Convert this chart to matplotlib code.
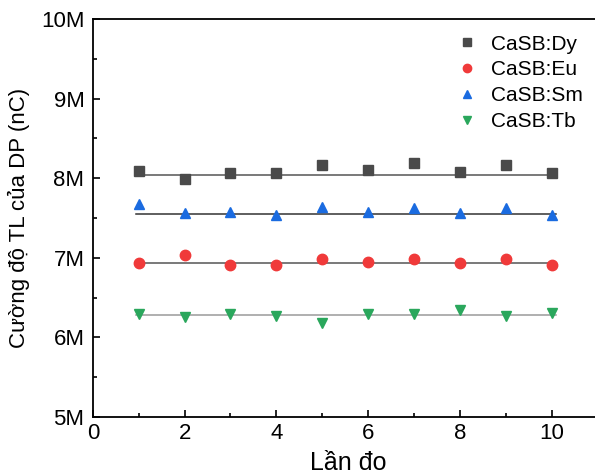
import matplotlib.pyplot as plt
import numpy as np
from matplotlib.ticker import MultipleLocator, FuncFormatter

plt.rcParams['font.family'] = ['Liberation Sans', 'DejaVu Sans']

# measurement index
lan_do = [1, 2, 3, 4, 5, 6, 7, 8, 9, 10]

# TL intensity (millions of nC) per sample
dy = [8.09, 7.99, 8.06, 8.06, 8.17, 8.10, 8.19, 8.08, 8.16, 8.07]
eu = [6.94, 7.03, 6.91, 6.91, 6.99, 6.95, 6.98, 6.93, 6.98, 6.91]
sm = [7.67, 7.56, 7.58, 7.54, 7.64, 7.58, 7.62, 7.56, 7.63, 7.54]
tb = [6.30, 6.26, 6.30, 6.27, 6.18, 6.30, 6.29, 6.35, 6.27, 6.31]

# flat fit levels
fit_levels = [8.04, 6.94, 7.55, 6.28]

labels = ['CaSB:Dy', 'CaSB:Eu', 'CaSB:Sm', 'CaSB:Tb']
series = [dy, eu, sm, tb]
markers = ['s', 'o', '^', 'v']
colors = ['#4a4a4a', '#f03a3a', '#1a6be0', '#2aa75c']
line_colors = ['#555555', '#555555', '#333333', '#9a9a9a']

fig = plt.figure(figsize=(5.95, 4.75), dpi=100)
ax = fig.add_axes([0.156, 0.122, 0.86, 0.838])

x = np.array(lan_do)
for vals, lab, m, c, lc, lvl in zip(series, labels, markers, colors, line_colors, fit_levels):
    ax.plot([x.min() - 0.05, x.max() + 0.1], [lvl, lvl], color=lc, lw=1.1, zorder=2)
    ax.plot(x, vals, linestyle='none', marker=m, ms=7.5 if m != 's' else 6.5,
            color=c, label=lab, zorder=3)

ax.set_xlim(0, 11.15)
ax.set_ylim(5, 10)
ax.xaxis.set_major_locator(MultipleLocator(2))
ax.xaxis.set_minor_locator(MultipleLocator(1))
ax.yaxis.set_major_locator(MultipleLocator(1))
ax.yaxis.set_minor_locator(MultipleLocator(0.5))
ax.yaxis.set_major_formatter(FuncFormatter(lambda v, p: f"{v:g}M"))
ax.tick_params(which='both', direction='in', labelsize=16, width=1.2)
ax.tick_params(axis='y', pad=6)
ax.tick_params(axis='x', pad=4)
ax.tick_params(which='major', length=5)
ax.tick_params(which='minor', length=3)
for s in ax.spines.values():
    s.set_linewidth(1.3)

ax.set_xlabel('Lần đo', fontsize=18, labelpad=5)
ax.set_ylabel('Cường độ TL của DP (nC)', fontsize=16, labelpad=8)

ax.legend(loc='upper left', bbox_to_anchor=(0.672, 1.008), frameon=False,
          fontsize=15, handletextpad=0.6, labelspacing=0.33, handlelength=1.1,
          markerscale=0.8)

fig.savefig('out.png', dpi=100)
